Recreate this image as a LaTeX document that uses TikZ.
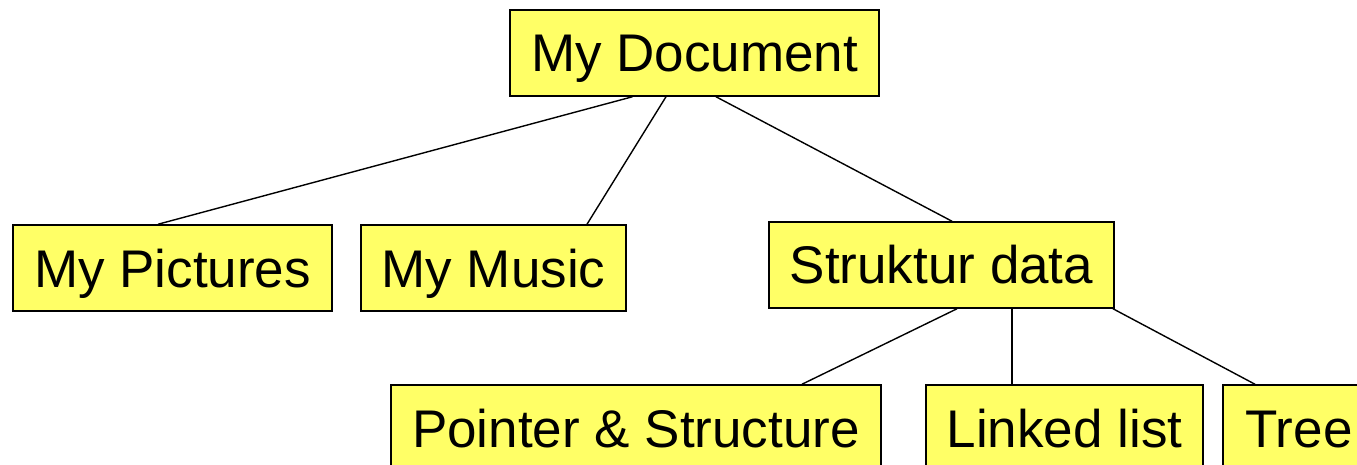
\documentclass[tikz,border=0pt]{standalone}
\usepackage{fontspec}
\setmainfont{Liberation Sans}
\definecolor{boxyellow}{HTML}{FFFF66}
\tikzset{
  box/.style={draw=black, fill=boxyellow, line width=0.75pt, inner sep=0pt,
    minimum height=43pt, text height=19pt, text depth=0pt,
    font=\fontsize{26.5}{32}\selectfont},
  link/.style={draw=black, line width=0.7pt}
}
\begin{document}
\begin{tikzpicture}[x=0.5pt,y=-0.5pt]
\useasboundingbox (0,0) rectangle (1357,465);
\clip (0,0) rectangle (1357,465);
\node[box, minimum width=184.5pt] (doc) at (694.5,53) {My Document};
\node[box, minimum width=159.5pt] (pic) at (172.5,268) {My Pictures};
\node[box, minimum width=132.5pt] (mus) at (493.5,268) {My Music};
\node[box, minimum width=172.5pt] (sd) at (941.5,265) {Struktur data};
\node[box, minimum width=245pt] (ps) at (636,428) {Pointer \& Structure};
\node[box, minimum width=138.5pt] (ll) at (1064.5,428) {Linked list};
\node[box, minimum width=76pt] (tr) at (1299,428) {Tree};
\draw[link] ([xshift=-31pt]doc.south) -- ([xshift=-7.25pt]pic.north);
\draw[link] ([xshift=-14.25pt]doc.south) -- ([xshift=46.75pt]mus.north);
\draw[link] ([xshift=10.75pt]doc.south) -- ([xshift=5.25pt]sd.north);
\draw[link] ([xshift=7.75pt]sd.south) -- ([xshift=83pt]ps.north);
\draw[link] ([xshift=35.25pt]sd.south) -- ([xshift=-26.25pt]ll.north);
\draw[link] ([xshift=85.75pt]sd.south) -- ([xshift=-22pt]tr.north);
\end{tikzpicture}
\end{document}
